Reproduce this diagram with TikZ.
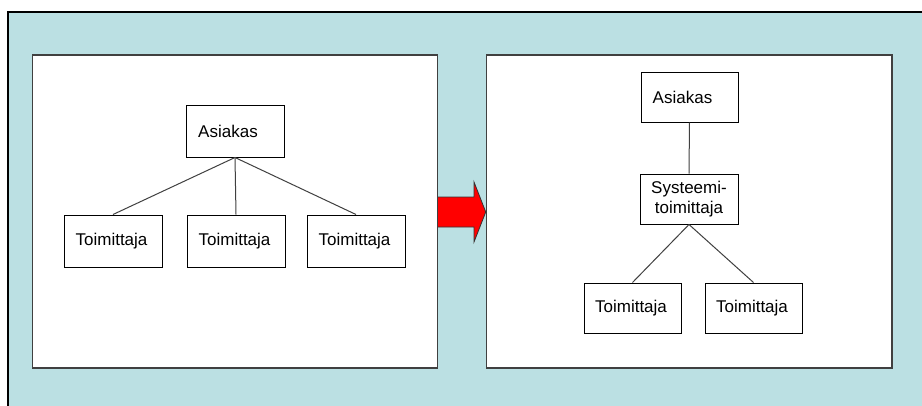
\documentclass[tikz,border=0pt]{standalone}
\usepackage{fontspec}
\setmainfont{Liberation Sans}
\begin{document}
\begin{tikzpicture}[x=1pt,y=-1pt,
  panel/.style={draw=black!75, line width=1.5pt, fill=white, inner sep=0pt},
  item/.style={draw=black, line width=1pt, fill=white, inner sep=0pt,
    minimum width=98pt, minimum height=52pt,
    font=\fontsize{17}{20.5}\selectfont, align=center},
  link/.style={draw=black!75, line width=1pt}]
\useasboundingbox (0,0) rectangle (922,405);
\fill[white] (0,0) rectangle (922,405);
% background frame
\fill[fill={rgb,255:red,187;green,224;blue,227}] (8,12) rectangle (930,410);
\draw[black, line width=1.5pt] (8,410) -- (8,12) -- (930,12);

% panels
\node[panel, minimum width=405pt, minimum height=313pt] (left) at (234.75,211.5) {};
\node[panel, minimum width=405.5pt, minimum height=313pt] (right) at (689.25,211.5) {};

% left panel: one customer, three suppliers
\node[item] (asL) at (235,131) {Asiakas\hspace*{14pt}};
\node[item] (t1) at (113,241) {Toimittaja\hspace*{3pt}};
\node[item] (t2) at (236,241) {Toimittaja\hspace*{3pt}};
\node[item] (t3) at (356,241) {Toimittaja\hspace*{3pt}};
\draw[link] (asL.south) -- (t1.north);
\draw[link] (asL.south) -- (t2.north);
\draw[link] (asL.south) -- (t3.north);

% right panel: customer, system supplier, two suppliers
\node[item, minimum width=97pt, minimum height=50pt] (asR) at (689.5,97) {Asiakas\hspace*{14pt}};
\node[item, minimum width=98pt, minimum height=50pt] (sys) at (689,199) {Systeemi-\\toimittaja};
\node[item, minimum width=97pt, minimum height=50pt] (r1) at (632.5,308) {Toimittaja\hspace*{3pt}};
\node[item, minimum width=97pt, minimum height=50pt] (r2) at (753.5,308) {Toimittaja\hspace*{3pt}};
\draw[link] (asR.south) -- (sys.north);
\draw[link] (sys.south) -- (r1.north);
\draw[link] (sys.south) -- (r2.north);

% transition arrow between the panels
\draw[fill=red, draw=black!80, line width=0.8pt, line join=miter]
  (left.east |- 0,197) -- (474,197) -- (474,182) -- (right.west |- 0,212)
  -- (474,242) -- (474,227) -- (left.east |- 0,227);
\end{tikzpicture}
\end{document}
